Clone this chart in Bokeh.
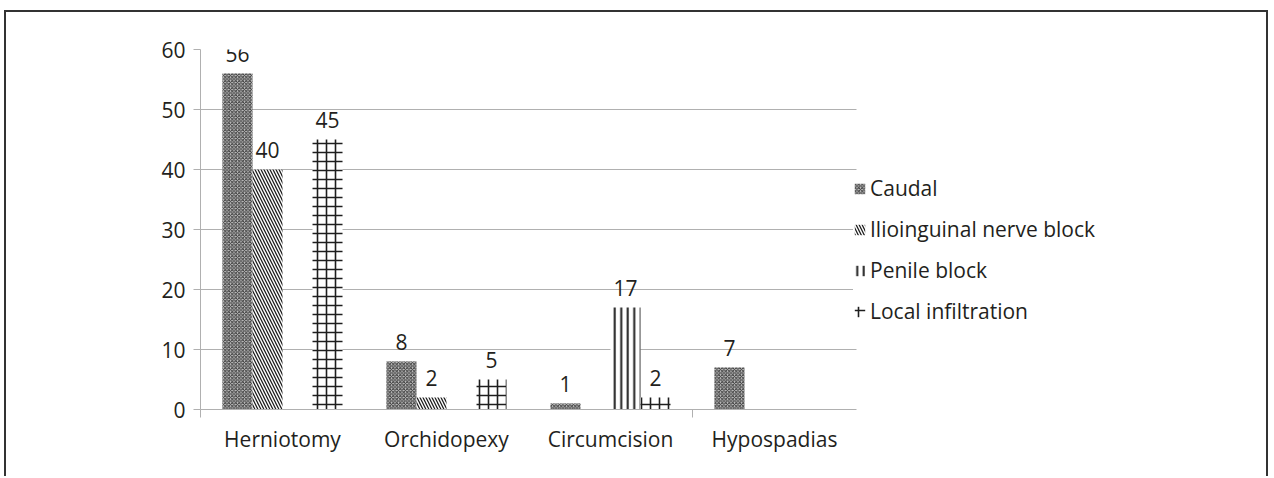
from bokeh.plotting import figure
from bokeh.models import (ColumnDataSource, FixedTicker, Legend, LegendItem, Range1d)
from bokeh.core.properties import value
from bokeh.embed import file_html
from bokeh.resources import INLINE

# ---- data ----
categories = ["Herniotomy", "Orchidopexy", "Circumcision", "Hypospadias"]
series_names = ["Caudal", "Ilioinguinal nerve block", "Penile block", "Local infiltration"]
caudal = [56, 8, 1, 7]
ilioinguinal = [40, 2, 0, 0]
penile = [0, 0, 17, 0]
local_infiltration = [45, 5, 2, 0]
y_ticks = [0, 10, 20, 30, 40, 50, 60]

series_values = [caudal, ilioinguinal, penile, local_infiltration]

FONT = "Open Sans"
TEXT_COLOR = "#231f20"
GRID = "#b0b0b0"

W, H = 1264, 466
LEFT, RIGHT, TOP, BOTTOM = 194, 8, 37, 69
CAT_PX = 164.0                      # pixel width of one category slot
frame_w = W - LEFT - RIGHT
x_end = frame_w / CAT_PX            # extra room on the right holds the legend
n = len(categories)

p = figure(width=W, height=H, output_backend="svg", toolbar_location=None,
           x_range=Range1d(0, x_end), y_range=Range1d(0, 60),
           min_border_left=LEFT, min_border_right=RIGHT, min_border_top=TOP,
           min_border_bottom=BOTTOM)
p.styles = {"margin-left": "4px", "margin-top": "10px",
            "border-left": "2px solid #333333", "border-top": "2px solid #333333",
            "border-right": "2px solid #333333"}
p.outline_line_color = None
p.background_fill_color = "white"
p.border_fill_color = "white"

bar_w = 0.183
offsets = [-1.5 * bar_w, -0.5 * bar_w, 0.5 * bar_w, 1.5 * bar_w]
styles = [
    dict(fill_color="#c4c4c4", hatch_pattern="x", hatch_scale=3.5, hatch_color="#383838", hatch_weight=1),
    dict(fill_color="white", hatch_pattern="\\", hatch_scale=6, hatch_color="#1e1e1e", hatch_weight=1.3),
    dict(fill_color="white", hatch_pattern="|", hatch_scale=6.5, hatch_color="#1e1e1e", hatch_weight=2),
    dict(fill_color="white", hatch_pattern="+", hatch_scale=9, hatch_color="#1e1e1e", hatch_weight=1.6),
]

items = []
lx, ly, lt = [], [], []
for name, vals, off, st in zip(series_names, series_values, offsets, styles):
    xs = [i + 0.5 + off for i in range(n)]
    src = ColumnDataSource(dict(x=xs, top=vals))
    r = p.vbar(x="x", top="top", width=bar_w, bottom=0, source=src,
               line_color=None, **st)
    items.append(LegendItem(label=name, renderers=[r]))
    for x, v in zip(xs, vals):
        if v:
            lx.append(x); ly.append(v); lt.append(str(v))

lab = ColumnDataSource(dict(x=lx, y=ly, t=lt))
p.text(x="x", y="y", text="t", source=lab, text_align="center",
       text_baseline="middle", y_offset=-20, text_font=value(FONT),
       text_font_size="21px", text_color=TEXT_COLOR)

# axes
xa = p.xaxis[0]
xa.bounds = (0, n)
xa.ticker = FixedTicker(ticks=[i + 0.5 for i in range(n)], minor_ticks=[0, 3])
xa.major_label_overrides = {i + 0.5: c for i, c in enumerate(categories)}
xa.major_tick_line_color = None
xa.major_tick_out = 0
xa.major_tick_in = 0
xa.minor_tick_out = 8
xa.minor_tick_in = 0
xa.minor_tick_line_color = GRID
xa.axis_line_color = GRID
xa.major_label_standoff = 7
xa.major_label_text_font = FONT
xa.major_label_text_font_size = "21px"
xa.major_label_text_color = TEXT_COLOR

ya = p.yaxis[0]
ya.ticker = FixedTicker(ticks=y_ticks)
ya.major_tick_out = 7
ya.major_tick_in = 0
ya.minor_tick_line_color = None
ya.major_tick_line_color = GRID
ya.axis_line_color = GRID
ya.major_label_standoff = 8
ya.major_label_text_font = FONT
ya.major_label_text_font_size = "21px"
ya.major_label_text_color = TEXT_COLOR

p.xgrid.grid_line_color = None
p.ygrid.grid_line_color = GRID
p.ygrid.ticker = FixedTicker(ticks=y_ticks)
p.ygrid.cross_bounds = (0, n)

legend = Legend(items=items, location=(653, 84), orientation="vertical",
                border_line_color=None, background_fill_color="white",
                background_fill_alpha=1, padding=0, margin=0,
                glyph_width=13, glyph_height=13, label_standoff=4,
                spacing=13, label_height=20,
                label_text_font=FONT, label_text_font_size="21px",
                label_text_color=TEXT_COLOR)
p.add_layout(legend, "center")

open("out.html", "w").write(file_html(p, INLINE))
